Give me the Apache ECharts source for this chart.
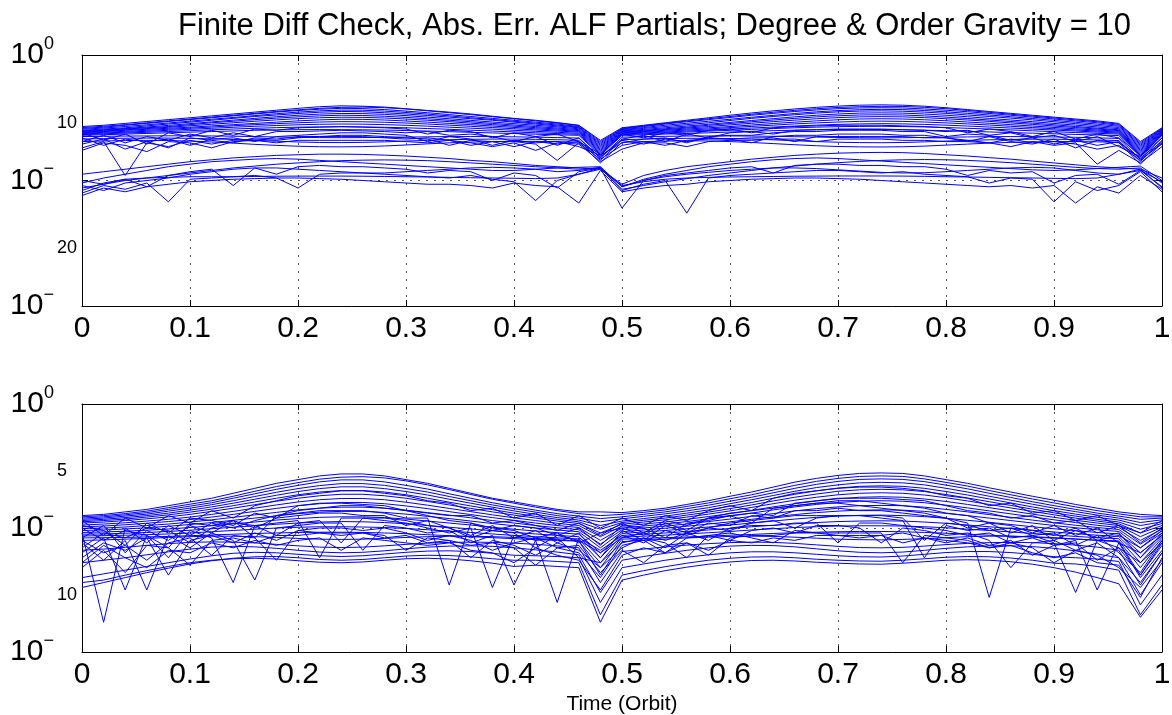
<!DOCTYPE html>
<html><head><meta charset="utf-8">
<script src="https://cdn.jsdelivr.net/npm/echarts@6/dist/echarts.min.js"></script>
<style>html,body{margin:0;padding:0;background:#fff}#c{width:1172px;height:715px}</style>
</head><body><div id="c"></div>
<script>
// Time (orbit fraction) sample points
const times = [0,0.02,0.04,0.06,0.08,0.1,0.12,0.14,0.16,0.18,0.2,0.22,0.24,0.26,0.28,0.3,0.32,0.34,0.36,0.38,0.4,0.42,0.44,0.46,0.48,0.5,0.52,0.54,0.56,0.58,0.6,0.62,0.64,0.66,0.68,0.7,0.72,0.74,0.76,0.78,0.8,0.82,0.84,0.86,0.88,0.9,0.92,0.94,0.96,0.98,1];
const xTickLabels = ['0','0.1','0.2','0.3','0.4','0.5','0.6','0.7','0.8','0.9','1'];
const titleText = 'Finite Diff Check, Abs. Err. ALF Partials; Degree & Order Gravity = 10';
const xAxisName = 'Time (Orbit)';

// log10(abs error) — top panel, upper band
const topU1 = [-5.7,-5.6,-5.45,-5.3,-5.15,-5.0,-4.85,-4.7,-4.55,-4.4,-4.25,-4.12,-4.05,-4.08,-4.15,-4.28,-4.42,-4.55,-4.7,-4.88,-5.05,-5.2,-5.38,-5.6,-6.8,-5.8,-5.6,-5.4,-5.2,-5.0,-4.8,-4.62,-4.45,-4.3,-4.17,-4.07,-4.0,-3.97,-4.0,-4.08,-4.2,-4.35,-4.5,-4.65,-4.8,-4.95,-5.1,-5.25,-5.45,-6.9,-5.8];
const topU1b = [-5.78,-5.68,-5.55,-5.4,-5.25,-5.1,-4.95,-4.8,-4.65,-4.5,-4.37,-4.25,-4.17,-4.15,-4.2,-4.3,-4.45,-4.6,-4.75,-4.92,-5.08,-5.25,-5.42,-5.62,-6.9,-5.85,-5.65,-5.45,-5.26,-5.08,-4.9,-4.72,-4.56,-4.41,-4.28,-4.18,-4.12,-4.09,-4.1,-4.17,-4.28,-4.42,-4.57,-4.72,-4.87,-5.02,-5.17,-5.32,-5.52,-7.0,-5.85];
const topU2 = [-5.85,-5.75,-5.6,-5.45,-5.3,-5.15,-5.0,-4.85,-4.7,-4.55,-4.42,-4.32,-4.25,-4.27,-4.35,-4.47,-4.6,-4.75,-4.9,-5.05,-5.2,-5.35,-5.5,-5.7,-7.0,-5.9,-5.7,-5.5,-5.32,-5.15,-4.98,-4.8,-4.65,-4.5,-4.38,-4.28,-4.22,-4.2,-4.22,-4.3,-4.4,-4.52,-4.66,-4.8,-4.95,-5.1,-5.25,-5.4,-5.6,-7.1,-5.9];
const topU2b = [-5.92,-5.82,-5.7,-5.56,-5.42,-5.27,-5.12,-4.98,-4.83,-4.68,-4.55,-4.45,-4.39,-4.4,-4.47,-4.58,-4.71,-4.85,-5.0,-5.14,-5.28,-5.43,-5.58,-5.75,-7.1,-5.95,-5.78,-5.6,-5.44,-5.28,-5.12,-4.96,-4.81,-4.66,-4.53,-4.43,-4.36,-4.33,-4.35,-4.42,-4.53,-4.65,-4.78,-4.92,-5.06,-5.21,-5.36,-5.51,-5.68,-7.2,-5.95];
const topU3 = [-6.0,-5.9,-5.8,-5.65,-5.5,-5.35,-5.2,-5.05,-4.9,-4.78,-4.66,-4.56,-4.5,-4.52,-4.6,-4.7,-4.82,-4.95,-5.08,-5.2,-5.35,-5.5,-5.65,-5.8,-7.2,-6.0,-5.85,-5.7,-5.55,-5.4,-5.22,-5.05,-4.9,-4.76,-4.63,-4.53,-4.47,-4.45,-4.48,-4.55,-4.65,-4.78,-4.9,-5.03,-5.17,-5.32,-5.47,-5.62,-5.78,-7.3,-6.0];
const topU3b = [-6.05,-5.96,-5.86,-5.74,-5.61,-5.47,-5.33,-5.19,-5.05,-4.92,-4.8,-4.71,-4.66,-4.67,-4.73,-4.83,-4.95,-5.08,-5.21,-5.34,-5.47,-5.6,-5.73,-5.88,-7.3,-6.05,-5.93,-5.8,-5.66,-5.52,-5.37,-5.22,-5.07,-4.93,-4.8,-4.7,-4.63,-4.61,-4.63,-4.7,-4.8,-4.92,-5.05,-5.18,-5.31,-5.45,-5.59,-5.73,-5.87,-7.4,-6.05];
const topU4 = [-6.1,-6.0,-5.9,-5.8,-5.7,-5.55,-5.4,-5.28,-5.15,-5.03,-4.93,-4.85,-4.8,-4.82,-4.88,-4.97,-5.08,-5.2,-5.32,-5.45,-5.58,-5.7,-5.82,-5.95,-7.4,-6.1,-6.0,-5.88,-5.75,-5.6,-5.46,-5.32,-5.18,-5.05,-4.93,-4.84,-4.78,-4.76,-4.78,-4.85,-4.95,-5.06,-5.18,-5.3,-5.43,-5.56,-5.7,-5.83,-5.96,-7.5,-6.1];
const topU4b = [-6.15,-6.06,-5.96,-5.86,-5.76,-5.64,-5.52,-5.4,-5.28,-5.17,-5.07,-5.0,-4.96,-4.97,-5.02,-5.1,-5.2,-5.31,-5.43,-5.55,-5.67,-5.79,-5.9,-6.02,-7.5,-6.15,-6.05,-5.94,-5.82,-5.7,-5.57,-5.44,-5.31,-5.19,-5.08,-4.99,-4.93,-4.91,-4.93,-4.99,-5.08,-5.18,-5.29,-5.41,-5.53,-5.66,-5.78,-5.9,-6.02,-7.6,-6.15];
const topU5 = [-6.2,-6.1,-6.0,-5.92,-5.84,-5.75,-5.65,-5.55,-5.45,-5.35,-5.25,-5.17,-5.12,-5.13,-5.18,-5.26,-5.35,-5.45,-5.55,-5.66,-5.77,-5.88,-5.98,-6.08,-7.6,-6.2,-6.1,-6.0,-5.9,-5.8,-5.7,-5.58,-5.46,-5.35,-5.25,-5.16,-5.1,-5.08,-5.1,-5.16,-5.24,-5.34,-5.44,-5.55,-5.66,-5.77,-5.88,-5.98,-6.08,-7.7,-6.2];
const topU5b = [-6.25,-6.16,-6.08,-6.0,-5.92,-5.83,-5.74,-5.64,-5.55,-5.47,-5.4,-5.34,-5.31,-5.32,-5.36,-5.42,-5.5,-5.59,-5.68,-5.78,-5.88,-5.97,-6.06,-6.15,-7.7,-6.25,-6.16,-6.07,-5.98,-5.89,-5.79,-5.69,-5.59,-5.49,-5.41,-5.34,-5.29,-5.27,-5.29,-5.34,-5.41,-5.49,-5.58,-5.68,-5.78,-5.88,-5.97,-6.06,-6.15,-7.8,-6.25];
const topU6 = [-6.3,-6.22,-6.15,-6.08,-6.0,-5.92,-5.84,-5.76,-5.68,-5.62,-5.56,-5.52,-5.5,-5.51,-5.55,-5.6,-5.67,-5.75,-5.83,-5.91,-6.0,-6.08,-6.16,-6.24,-7.8,-6.3,-6.22,-6.14,-6.06,-5.98,-5.9,-5.82,-5.74,-5.66,-5.59,-5.53,-5.49,-5.47,-5.49,-5.53,-5.59,-5.66,-5.74,-5.82,-5.9,-5.98,-6.06,-6.14,-6.22,-7.9,-6.3];
const topU6b = [-6.35,-6.28,-6.22,-6.16,-6.1,-6.03,-5.96,-5.9,-5.84,-5.79,-5.75,-5.73,-5.72,-5.73,-5.76,-5.8,-5.86,-5.92,-5.99,-6.06,-6.13,-6.2,-6.26,-6.32,-7.9,-6.35,-6.28,-6.21,-6.14,-6.07,-6.0,-5.93,-5.86,-5.8,-5.75,-5.71,-5.69,-5.68,-5.7,-5.73,-5.78,-5.84,-5.9,-5.97,-6.04,-6.11,-6.18,-6.24,-6.3,-8.0,-6.35];
const topU7 = [-6.4,-6.35,-6.3,-6.25,-6.2,-6.15,-6.1,-6.05,-6.0,-5.97,-5.95,-5.94,-5.95,-5.96,-5.98,-6.02,-6.06,-6.11,-6.16,-6.21,-6.26,-6.31,-6.36,-6.4,-8.0,-6.4,-6.35,-6.3,-6.25,-6.2,-6.14,-6.08,-6.03,-5.99,-5.96,-5.94,-5.93,-5.94,-5.96,-5.99,-6.03,-6.08,-6.13,-6.18,-6.23,-6.28,-6.33,-6.37,-6.42,-8.1,-6.4];
const topU8 = [-6.5,-6.48,-6.46,-6.45,-6.44,-6.44,-6.45,-6.47,-6.5,-6.53,-6.56,-6.58,-6.59,-6.58,-6.56,-6.54,-6.52,-6.5,-6.5,-6.5,-6.52,-6.55,-6.58,-6.62,-8.2,-6.55,-6.5,-6.48,-6.46,-6.45,-6.45,-6.46,-6.48,-6.51,-6.54,-6.57,-6.59,-6.6,-6.59,-6.57,-6.55,-6.53,-6.51,-6.5,-6.51,-6.53,-6.56,-6.6,-6.65,-8.3,-6.6];
const topU9 = [-6.7,-6.66,-6.63,-6.62,-6.62,-6.64,-6.68,-6.73,-6.8,-6.87,-6.93,-6.97,-6.98,-6.96,-6.92,-6.86,-6.8,-6.75,-6.72,-6.7,-6.7,-6.72,-6.75,-6.8,-8.4,-6.75,-6.7,-6.66,-6.64,-6.64,-6.66,-6.7,-6.76,-6.83,-6.9,-6.95,-6.98,-6.99,-6.97,-6.92,-6.86,-6.8,-6.76,-6.73,-6.71,-6.71,-6.73,-6.77,-6.82,-8.5,-6.8];
const topU10 = [-6.9,-6.85,-6.82,-6.8,-6.82,-6.86,-6.93,-7.02,-7.12,-7.2,-7.27,-7.31,-7.32,-7.3,-7.25,-7.17,-7.08,-7.0,-6.94,-6.9,-6.88,-6.88,-6.9,-6.95,-8.6,-6.95,-6.9,-6.86,-6.84,-6.85,-6.9,-6.97,-7.06,-7.15,-7.23,-7.29,-7.32,-7.33,-7.31,-7.26,-7.18,-7.1,-7.02,-6.96,-6.92,-6.9,-6.9,-6.92,-6.97,-8.7,-7.0];
const topJ1 = [-6.6,-7.2,-6.7,-6.9,-7.4,-6.6,-6.8,-7.0,-6.6,-6.7,-6.5,-6.5,-6.4,-6.4,-6.5,-6.6,-6.7,-7.2,-6.8,-6.9,-7.3,-6.9,-7.1,-6.9,-8.1,-6.8,-7.1,-6.7,-6.9,-6.6,-6.7,-7.0,-6.5,-6.4,-6.4,-6.3,-6.3,-6.3,-6.4,-6.4,-6.6,-6.9,-6.5,-6.9,-7.1,-6.7,-7.4,-6.8,-7.0,-8.2,-6.9];
const topJ2 = [-7.1,-6.7,-7.5,-6.9,-6.7,-7.2,-6.7,-6.6,-6.9,-6.5,-6.4,-6.3,-6.2,-6.2,-6.3,-6.4,-6.9,-6.5,-6.7,-7.2,-6.8,-7.0,-6.9,-7.3,-8.0,-7.0,-6.7,-6.6,-7.0,-6.5,-6.4,-6.4,-6.2,-6.1,-6.1,-6.0,-6.0,-6.0,-6.1,-6.1,-6.5,-6.3,-6.4,-6.8,-6.6,-7.1,-6.8,-7.2,-6.9,-8.3,-7.1];
const topJ3 = [-7.4,-6.9,-9.6,-7.0,-7.3,-6.8,-7.1,-6.8,-6.7,-6.8,-6.6,-6.5,-6.5,-6.5,-6.6,-6.7,-6.6,-6.8,-7.2,-6.9,-6.9,-7.1,-8.4,-7.0,-8.3,-7.2,-6.9,-7.2,-6.8,-6.7,-6.7,-6.6,-6.6,-6.9,-6.5,-6.5,-6.5,-6.5,-6.5,-6.6,-6.6,-6.8,-7.0,-6.7,-7.0,-6.9,-7.1,-7.5,-7.2,-8.4,-7.0];
const topJ4 = [-7.6,-7.0,-7.2,-7.7,-6.9,-7.0,-7.4,-6.9,-6.8,-7.0,-6.8,-6.8,-6.8,-6.8,-6.8,-6.9,-7.0,-6.8,-7.0,-7.3,-7.0,-7.6,-7.0,-7.1,-8.5,-7.5,-7.0,-7.0,-7.3,-6.9,-6.8,-6.8,-6.7,-6.7,-6.9,-6.7,-6.7,-6.7,-6.8,-6.8,-6.9,-6.9,-7.0,-7.3,-6.9,-7.2,-7.0,-8.7,-7.6,-8.6,-7.3];
const topJ5 = [-6.2,-6.8,-6.3,-7.1,-6.2,-6.5,-6.0,-6.4,-5.9,-6.0,-5.8,-5.75,-5.7,-5.75,-5.8,-5.9,-6.3,-6.0,-6.1,-6.6,-6.2,-6.5,-6.3,-6.9,-7.9,-6.3,-6.6,-6.2,-6.4,-6.0,-5.9,-6.2,-5.8,-5.7,-5.65,-5.6,-5.6,-5.6,-5.65,-5.7,-5.8,-6.2,-5.9,-6.1,-6.5,-6.1,-6.7,-6.3,-6.6,-8.0,-6.4];
const topJ6 = [-6.9,-6.4,-7.0,-6.5,-6.8,-6.3,-6.6,-6.2,-6.5,-6.1,-6.1,-6.05,-6.0,-6.05,-6.1,-6.2,-6.1,-6.4,-6.3,-6.5,-6.9,-6.5,-7.2,-6.6,-8.2,-6.7,-6.4,-6.9,-6.3,-6.6,-6.2,-6.1,-6.3,-6.0,-5.95,-5.9,-5.9,-5.9,-5.95,-6.0,-6.1,-6.0,-6.4,-6.2,-6.6,-6.4,-6.9,-6.5,-7.3,-8.1,-6.6];
// top panel, lower band
const topL1 = [-9.5,-9.3,-9.1,-8.9,-8.7,-8.5,-8.35,-8.2,-8.1,-8.0,-7.95,-7.9,-7.9,-7.92,-7.98,-8.05,-8.15,-8.25,-8.4,-8.5,-8.65,-8.8,-8.9,-9.0,-9.1,-10.3,-9.6,-9.2,-8.9,-8.7,-8.5,-8.3,-8.15,-8.0,-7.9,-7.82,-7.78,-7.76,-7.78,-7.85,-7.95,-8.05,-8.18,-8.3,-8.45,-8.6,-8.75,-8.9,-9.0,-9.1,-9.8];
const topL2 = [-10.2,-9.8,-9.5,-9.2,-8.9,-8.7,-8.5,-8.4,-8.3,-8.25,-8.3,-8.4,-8.5,-8.6,-8.7,-8.8,-8.9,-9.0,-9.1,-9.2,-9.2,-9.1,-9.0,-8.95,-8.9,-10.5,-9.9,-9.5,-9.2,-8.9,-8.7,-8.5,-8.35,-8.25,-8.2,-8.25,-8.35,-8.45,-8.55,-8.65,-8.75,-8.85,-8.95,-9.05,-9.15,-9.2,-9.15,-9.05,-8.95,-8.85,-10.0];
const topL3 = [-10.6,-10.3,-10.0,-9.8,-9.6,-9.4,-9.2,-9.0,-8.85,-8.7,-8.6,-8.5,-8.42,-8.38,-8.36,-8.38,-8.42,-8.5,-8.6,-8.7,-8.8,-8.9,-9.0,-9.1,-9.0,-10.7,-10.4,-10.1,-9.85,-9.6,-9.4,-9.2,-9.0,-8.85,-8.7,-8.58,-8.48,-8.4,-8.35,-8.33,-8.35,-8.4,-8.48,-8.58,-8.7,-8.82,-8.95,-9.05,-9.1,-9.0,-10.2];
const topL4 = [-10.0,-10.3,-9.9,-9.8,-9.75,-9.7,-9.7,-9.7,-9.68,-9.66,-9.65,-9.65,-9.65,-9.66,-9.68,-9.7,-9.72,-9.75,-9.78,-9.8,-9.82,-9.85,-9.8,-9.5,-9.1,-10.4,-10.1,-9.9,-9.8,-9.75,-9.72,-9.7,-9.68,-9.66,-9.65,-9.64,-9.64,-9.64,-9.65,-9.67,-9.7,-9.72,-9.75,-9.78,-9.8,-9.83,-9.85,-9.8,-9.5,-9.2,-10.1];
const topL5 = [-10.8,-10.2,-9.9,-10.5,-9.6,-9.3,-9.1,-10.4,-9.0,-9.5,-8.9,-8.8,-8.9,-8.9,-9.0,-9.1,-9.4,-9.2,-9.3,-10.0,-9.4,-9.6,-10.6,-9.3,-9.0,-12.2,-10.0,-9.6,-9.4,-9.2,-9.0,-8.9,-9.4,-8.8,-8.7,-8.7,-8.8,-8.8,-8.9,-8.9,-9.1,-9.6,-9.2,-9.4,-9.3,-10.2,-9.6,-9.5,-10.3,-9.2,-10.5];
const topL6 = [-11.0,-10.4,-10.7,-10.2,-11.7,-9.9,-9.8,-9.7,-9.6,-9.8,-10.6,-9.5,-9.4,-9.4,-9.5,-9.6,-9.7,-9.8,-9.6,-9.9,-10.1,-11.6,-10.0,-9.5,-9.0,-10.8,-10.3,-10.0,-12.6,-9.8,-9.6,-9.5,-9.4,-9.3,-9.2,-9.2,-9.3,-9.4,-9.3,-9.5,-9.6,-9.7,-10.2,-9.8,-9.9,-11.7,-10.1,-10.8,-10.4,-9.3,-10.9];
const topL7 = [-10.4,-10.8,-10.2,-10.0,-9.8,-9.5,-9.3,-9.1,-9.0,-9.0,-9.1,-9.2,-9.3,-9.4,-9.4,-9.3,-9.2,-9.1,-9.0,-8.95,-9.0,-9.1,-9.3,-9.2,-8.95,-10.5,-10.0,-9.7,-9.5,-9.35,-9.2,-9.1,-9.0,-9.0,-9.05,-9.15,-9.25,-9.35,-9.4,-9.38,-9.3,-9.2,-9.1,-9.0,-8.95,-9.0,-9.2,-9.4,-9.5,-9.1,-10.6];
const topL8 = [-11.2,-10.6,-10.9,-10.5,-10.3,-10.1,-10.0,-9.9,-9.85,-9.8,-9.8,-9.85,-9.9,-10.0,-10.1,-10.2,-10.3,-10.3,-10.4,-10.6,-10.2,-10.4,-10.5,-11.8,-9.2,-10.9,-10.6,-10.4,-10.3,-10.1,-10.0,-9.9,-9.85,-9.8,-9.8,-9.85,-9.9,-10.0,-10.1,-10.2,-10.3,-10.4,-10.5,-10.4,-10.6,-10.4,-11.8,-10.5,-11.0,-9.6,-10.7];

// bottom panel
const botB1 = [-4.5,-4.45,-4.35,-4.25,-4.1,-3.95,-3.8,-3.6,-3.4,-3.2,-3.05,-2.9,-2.82,-2.82,-2.9,-3.05,-3.2,-3.4,-3.6,-3.8,-3.95,-4.1,-4.25,-4.35,-4.35,-4.38,-4.3,-4.2,-4.05,-3.9,-3.72,-3.55,-3.35,-3.15,-3.0,-2.88,-2.8,-2.78,-2.8,-2.9,-3.05,-3.2,-3.38,-3.55,-3.72,-3.88,-4.05,-4.2,-4.35,-4.45,-4.5];
const botB1b = [-4.55,-4.5,-4.42,-4.32,-4.18,-4.04,-3.9,-3.72,-3.52,-3.33,-3.17,-3.03,-2.95,-2.93,-2.98,-3.1,-3.26,-3.45,-3.65,-3.84,-4.0,-4.16,-4.3,-4.42,-4.5,-4.45,-4.37,-4.27,-4.13,-3.99,-3.82,-3.66,-3.47,-3.28,-3.12,-3.0,-2.92,-2.9,-2.92,-3.02,-3.16,-3.31,-3.49,-3.66,-3.83,-3.99,-4.15,-4.3,-4.43,-4.55,-4.55];
const botB2 = [-4.6,-4.55,-4.47,-4.38,-4.25,-4.12,-3.98,-3.8,-3.62,-3.44,-3.28,-3.14,-3.06,-3.06,-3.14,-3.28,-3.43,-3.62,-3.8,-3.98,-4.14,-4.28,-4.42,-4.52,-4.62,-4.55,-4.45,-4.35,-4.22,-4.08,-3.92,-3.76,-3.58,-3.4,-3.24,-3.12,-3.04,-3.02,-3.04,-3.13,-3.27,-3.42,-3.6,-3.77,-3.94,-4.1,-4.25,-4.4,-4.52,-4.65,-4.6];
const botB2b = [-4.65,-4.6,-4.52,-4.44,-4.32,-4.2,-4.06,-3.9,-3.73,-3.56,-3.41,-3.29,-3.21,-3.21,-3.28,-3.41,-3.55,-3.73,-3.9,-4.07,-4.22,-4.36,-4.5,-4.6,-4.75,-4.63,-4.53,-4.43,-4.31,-4.18,-4.02,-3.86,-3.69,-3.52,-3.37,-3.26,-3.18,-3.16,-3.18,-3.26,-3.4,-3.55,-3.72,-3.88,-4.04,-4.2,-4.34,-4.48,-4.6,-4.78,-4.67];
const botB3 = [-4.7,-4.65,-4.58,-4.5,-4.4,-4.28,-4.15,-4.0,-3.84,-3.68,-3.53,-3.41,-3.34,-3.34,-3.41,-3.53,-3.67,-3.84,-4.0,-4.16,-4.31,-4.45,-4.58,-4.68,-4.9,-4.72,-4.62,-4.52,-4.4,-4.27,-4.12,-3.97,-3.8,-3.64,-3.5,-3.39,-3.32,-3.3,-3.32,-3.4,-3.53,-3.67,-3.83,-3.99,-4.15,-4.3,-4.44,-4.57,-4.68,-4.9,-4.75];
const botB3b = [-4.75,-4.7,-4.64,-4.56,-4.47,-4.36,-4.24,-4.1,-3.95,-3.8,-3.66,-3.55,-3.49,-3.49,-3.55,-3.66,-3.8,-3.96,-4.11,-4.26,-4.4,-4.53,-4.65,-4.75,-5.05,-4.78,-4.69,-4.6,-4.48,-4.36,-4.22,-4.07,-3.91,-3.76,-3.63,-3.52,-3.46,-3.44,-3.46,-3.53,-3.65,-3.79,-3.94,-4.09,-4.24,-4.39,-4.52,-4.65,-4.76,-5.05,-4.82];
const botB4 = [-4.8,-4.76,-4.7,-4.63,-4.55,-4.45,-4.33,-4.2,-4.06,-3.92,-3.8,-3.7,-3.64,-3.64,-3.7,-3.8,-3.93,-4.07,-4.21,-4.35,-4.48,-4.6,-4.72,-4.82,-5.2,-4.85,-4.76,-4.67,-4.56,-4.44,-4.31,-4.17,-4.02,-3.88,-3.76,-3.66,-3.6,-3.58,-3.6,-3.67,-3.78,-3.91,-4.05,-4.19,-4.33,-4.47,-4.6,-4.72,-4.83,-5.2,-4.9];
const botB4b = [-4.88,-4.84,-4.79,-4.72,-4.65,-4.56,-4.45,-4.33,-4.2,-4.07,-3.95,-3.86,-3.81,-3.81,-3.86,-3.96,-4.08,-4.21,-4.34,-4.47,-4.59,-4.7,-4.81,-4.9,-5.35,-4.92,-4.84,-4.76,-4.65,-4.54,-4.42,-4.29,-4.15,-4.02,-3.91,-3.82,-3.76,-3.74,-3.76,-3.83,-3.93,-4.05,-4.18,-4.31,-4.44,-4.57,-4.69,-4.8,-4.9,-5.35,-4.97];
const botB5 = [-4.95,-4.92,-4.87,-4.81,-4.74,-4.66,-4.56,-4.45,-4.33,-4.21,-4.1,-4.02,-3.97,-3.97,-4.02,-4.11,-4.22,-4.34,-4.46,-4.58,-4.69,-4.8,-4.9,-4.98,-5.5,-5.0,-4.92,-4.84,-4.74,-4.63,-4.52,-4.4,-4.27,-4.15,-4.05,-3.97,-3.92,-3.9,-3.92,-3.98,-4.08,-4.19,-4.31,-4.43,-4.55,-4.67,-4.78,-4.89,-4.98,-5.5,-5.05];
const botB5b = [-5.02,-5.0,-4.96,-4.9,-4.84,-4.76,-4.67,-4.57,-4.47,-4.37,-4.27,-4.2,-4.16,-4.16,-4.2,-4.28,-4.38,-4.48,-4.59,-4.7,-4.8,-4.9,-4.99,-5.07,-5.65,-5.07,-5.0,-4.92,-4.84,-4.74,-4.64,-4.53,-4.42,-4.31,-4.22,-4.15,-4.1,-4.09,-4.1,-4.16,-4.25,-4.35,-4.46,-4.57,-4.68,-4.79,-4.89,-4.98,-5.06,-5.65,-5.12];
const botB6 = [-5.1,-5.08,-5.04,-4.99,-4.93,-4.86,-4.78,-4.69,-4.6,-4.51,-4.42,-4.36,-4.33,-4.33,-4.37,-4.44,-4.53,-4.62,-4.72,-4.82,-4.91,-5.0,-5.08,-5.15,-5.8,-5.15,-5.08,-5.01,-4.93,-4.84,-4.75,-4.65,-4.55,-4.46,-4.38,-4.32,-4.28,-4.27,-4.28,-4.33,-4.41,-4.5,-4.6,-4.7,-4.8,-4.9,-4.99,-5.07,-5.14,-5.8,-5.2];
const botB6b = [-5.18,-5.16,-5.13,-5.09,-5.04,-4.98,-4.91,-4.83,-4.76,-4.68,-4.62,-4.57,-4.55,-4.55,-4.58,-4.64,-4.72,-4.8,-4.88,-4.97,-5.05,-5.12,-5.19,-5.25,-6.0,-5.22,-5.16,-5.1,-5.03,-4.96,-4.88,-4.8,-4.72,-4.64,-4.57,-4.52,-4.49,-4.48,-4.5,-4.54,-4.61,-4.69,-4.77,-4.86,-4.95,-5.03,-5.11,-5.18,-5.24,-6.0,-5.28];
const botB7 = [-5.25,-5.24,-5.21,-5.18,-5.14,-5.09,-5.03,-4.97,-4.91,-4.85,-4.8,-4.76,-4.74,-4.75,-4.78,-4.83,-4.9,-4.97,-5.04,-5.11,-5.18,-5.24,-5.3,-5.35,-6.2,-5.3,-5.25,-5.2,-5.14,-5.08,-5.02,-4.95,-4.89,-4.83,-4.78,-4.74,-4.72,-4.71,-4.72,-4.76,-4.81,-4.88,-4.95,-5.02,-5.09,-5.16,-5.23,-5.29,-5.34,-6.2,-5.35];
const botB7b = [-5.32,-5.31,-5.29,-5.27,-5.24,-5.2,-5.15,-5.1,-5.05,-5.0,-4.97,-4.95,-4.95,-4.96,-4.98,-5.02,-5.07,-5.13,-5.18,-5.24,-5.3,-5.35,-5.4,-5.44,-6.4,-5.37,-5.33,-5.29,-5.24,-5.19,-5.14,-5.08,-5.03,-4.98,-4.95,-4.92,-4.91,-4.91,-4.92,-4.95,-4.99,-5.05,-5.1,-5.16,-5.22,-5.28,-5.34,-5.39,-5.43,-6.4,-5.42];
const botB8 = [-5.4,-5.39,-5.38,-5.36,-5.34,-5.31,-5.28,-5.25,-5.22,-5.2,-5.18,-5.17,-5.17,-5.18,-5.2,-5.23,-5.27,-5.31,-5.35,-5.39,-5.43,-5.47,-5.5,-5.53,-6.6,-5.45,-5.42,-5.39,-5.36,-5.33,-5.29,-5.26,-5.22,-5.19,-5.17,-5.15,-5.14,-5.14,-5.15,-5.18,-5.21,-5.25,-5.29,-5.33,-5.37,-5.41,-5.45,-5.49,-5.52,-6.6,-5.5];
const botB9 = [-5.5,-5.48,-5.45,-5.42,-5.38,-5.35,-5.33,-5.33,-5.35,-5.38,-5.42,-5.45,-5.46,-5.45,-5.42,-5.38,-5.35,-5.33,-5.33,-5.35,-5.38,-5.42,-5.47,-5.52,-6.9,-5.55,-5.5,-5.45,-5.4,-5.37,-5.34,-5.33,-5.34,-5.37,-5.41,-5.45,-5.47,-5.48,-5.46,-5.43,-5.39,-5.35,-5.33,-5.33,-5.35,-5.39,-5.44,-5.5,-5.56,-6.9,-5.6];
const botB10 = [-5.9,-5.85,-5.78,-5.7,-5.63,-5.58,-5.56,-5.57,-5.6,-5.66,-5.72,-5.77,-5.79,-5.77,-5.72,-5.66,-5.61,-5.58,-5.57,-5.58,-5.61,-5.66,-5.72,-5.8,-7.2,-5.95,-5.85,-5.76,-5.69,-5.63,-5.59,-5.57,-5.58,-5.62,-5.68,-5.74,-5.79,-5.8,-5.78,-5.73,-5.67,-5.62,-5.59,-5.58,-5.59,-5.63,-5.69,-5.77,-5.9,-7.3,-6.0];
const botB11 = [-6.4,-6.3,-6.2,-6.08,-5.96,-5.85,-5.77,-5.74,-5.76,-5.82,-5.9,-5.97,-6.0,-5.98,-5.92,-5.84,-5.77,-5.73,-5.72,-5.74,-5.8,-5.88,-5.97,-6.08,-7.6,-6.3,-6.15,-6.02,-5.9,-5.8,-5.73,-5.7,-5.71,-5.76,-5.84,-5.92,-5.98,-6.0,-5.97,-5.9,-5.82,-5.76,-5.72,-5.72,-5.75,-5.82,-5.92,-6.05,-6.2,-7.7,-6.4];
const botB12 = [-7.0,-6.85,-6.7,-6.55,-6.4,-6.25,-6.12,-6.02,-5.98,-6.0,-6.06,-6.12,-6.15,-6.12,-6.05,-5.98,-5.93,-5.92,-5.95,-6.02,-6.1,-6.12,-6.15,-6.2,-8.0,-6.6,-6.45,-6.3,-6.18,-6.08,-6.0,-5.96,-5.96,-6.0,-6.06,-6.12,-6.16,-6.17,-6.13,-6.06,-5.99,-5.95,-5.95,-5.99,-6.06,-6.16,-6.2,-6.25,-6.35,-8.1,-6.9];
const botB13 = [-7.4,-7.2,-7.0,-6.8,-6.62,-6.45,-6.32,-6.22,-6.16,-6.15,-6.2,-6.27,-6.3,-6.27,-6.2,-6.13,-6.1,-6.11,-6.16,-6.24,-6.3,-6.3,-6.35,-6.4,-8.5,-6.9,-6.72,-6.56,-6.42,-6.3,-6.22,-6.17,-6.16,-6.2,-6.26,-6.3,-6.33,-6.34,-6.3,-6.24,-6.18,-6.15,-6.16,-6.21,-6.3,-6.42,-6.45,-6.55,-6.7,-8.5,-7.3];
const botB14 = [-7.2,-7.1,-6.9,-6.72,-6.55,-6.4,-6.3,-6.24,-6.22,-6.25,-6.32,-6.38,-6.4,-6.37,-6.3,-6.24,-6.22,-6.25,-6.32,-6.42,-6.55,-6.5,-6.55,-6.6,-8.8,-7.1,-6.9,-6.72,-6.58,-6.46,-6.37,-6.31,-6.3,-6.33,-6.38,-6.42,-6.45,-6.46,-6.42,-6.36,-6.3,-6.28,-6.3,-6.36,-6.46,-6.6,-6.78,-7.0,-7.25,-8.6,-7.5];
const botK1 = [-5.2,-8.8,-5.0,-5.6,-4.9,-5.3,-4.8,-5.0,-4.7,-4.5,-4.4,-4.3,-4.3,-4.3,-4.4,-4.6,-4.6,-7.3,-4.8,-5.0,-5.1,-5.4,-5.2,-5.6,-5.2,-5.0,-5.3,-4.8,-5.1,-4.6,-4.4,-4.3,-4.2,-4.1,-4.0,-4.0,-4.1,-4.2,-4.3,-4.4,-4.6,-4.8,-7.8,-5.0,-5.1,-5.3,-5.0,-5.5,-5.3,-5.8,-5.1];
const botK2 = [-6.0,-5.4,-7.5,-5.3,-6.2,-5.1,-5.4,-7.2,-4.9,-4.8,-4.7,-6.2,-4.6,-4.6,-4.7,-4.8,-5.0,-5.2,-5.0,-7.4,-5.3,-5.5,-8.0,-5.4,-5.9,-5.3,-5.6,-5.1,-5.3,-5.0,-4.8,-4.7,-4.6,-4.5,-4.5,-4.5,-4.5,-4.6,-4.7,-6.2,-4.9,-5.1,-5.0,-5.4,-5.3,-5.6,-7.6,-5.5,-5.8,-6.4,-5.6];
const botK3 = [-5.6,-6.3,-5.5,-7.5,-5.3,-5.8,-5.2,-5.5,-7.1,-5.0,-4.9,-4.8,-4.8,-5.9,-4.9,-5.0,-5.2,-5.1,-5.6,-5.3,-7.3,-5.5,-5.4,-6.2,-6.4,-5.6,-5.4,-5.8,-5.2,-5.5,-5.0,-4.9,-4.9,-4.8,-4.8,-5.6,-4.8,-4.8,-4.9,-5.0,-5.1,-5.3,-5.2,-5.6,-5.4,-5.7,-5.5,-7.5,-5.6,-7.0,-5.9];
const botK4 = [-6.6,-5.9,-6.8,-5.7,-5.8,-6.5,-5.5,-5.4,-5.6,-5.3,-5.3,-5.2,-5.2,-5.2,-5.3,-5.9,-5.4,-5.5,-5.7,-5.6,-5.8,-6.5,-5.8,-5.7,-6.8,-5.9,-6.4,-5.7,-5.6,-6.1,-5.4,-5.3,-5.3,-5.2,-5.2,-5.2,-5.2,-5.2,-6.4,-5.3,-5.4,-5.5,-5.8,-5.6,-5.8,-6.4,-5.9,-6.1,-6.6,-7.4,-6.3];
const botK5 = [-5.0,-5.5,-5.1,-5.3,-5.8,-4.8,-4.9,-4.7,-5.4,-4.5,-4.3,-4.2,-4.1,-4.1,-4.2,-4.3,-4.5,-4.7,-4.8,-5.1,-4.9,-5.0,-5.3,-5.0,-5.7,-4.9,-5.0,-5.4,-4.8,-4.7,-4.5,-4.8,-4.2,-4.1,-4.0,-3.9,-3.9,-4.0,-4.1,-4.2,-4.4,-4.5,-4.8,-4.9,-5.2,-4.9,-5.3,-5.0,-5.6,-6.0,-5.3];
const botK6 = [-5.8,-5.2,-5.4,-5.0,-5.1,-5.6,-5.0,-4.8,-4.9,-5.3,-4.8,-4.7,-5.6,-4.6,-4.6,-4.7,-4.9,-5.0,-5.4,-5.1,-5.2,-5.8,-5.3,-5.5,-6.0,-5.4,-5.2,-5.5,-5.2,-5.0,-5.1,-4.8,-4.7,-5.0,-4.6,-4.5,-4.5,-4.5,-4.6,-5.5,-4.8,-4.9,-5.1,-5.0,-5.3,-5.2,-5.7,-5.3,-6.0,-6.8,-5.5];
const botK7 = [-4.7,-5.3,-4.6,-5.0,-4.5,-4.8,-4.3,-4.6,-4.1,-3.9,-3.7,-3.6,-3.5,-3.5,-3.6,-3.7,-3.9,-4.0,-4.3,-4.2,-4.6,-4.4,-4.9,-4.5,-5.0,-4.6,-4.9,-4.5,-4.7,-4.3,-4.1,-4.3,-3.8,-3.6,-3.5,-3.4,-3.35,-3.35,-3.4,-3.5,-3.7,-3.8,-4.1,-4.0,-4.4,-4.3,-4.7,-4.5,-4.9,-5.2,-4.7];
const botK8 = [-5.4,-4.9,-6.0,-5.1,-5.5,-4.9,-5.2,-4.7,-5.0,-4.6,-4.5,-4.4,-4.4,-4.5,-4.5,-4.9,-4.7,-5.0,-5.3,-4.9,-5.4,-5.1,-5.6,-5.2,-6.2,-5.1,-5.5,-4.9,-5.2,-4.8,-4.9,-4.5,-4.6,-4.3,-4.3,-4.2,-4.3,-4.3,-4.4,-4.5,-4.6,-5.0,-4.8,-5.2,-4.9,-5.5,-5.1,-5.4,-5.2,-6.2,-5.2];
const botK9 = [-6.2,-5.6,-5.9,-5.4,-6.9,-5.5,-5.3,-5.6,-5.2,-5.5,-5.1,-5.0,-5.0,-5.1,-5.0,-5.2,-5.5,-5.3,-5.5,-5.9,-5.6,-5.4,-5.8,-6.0,-7.0,-5.7,-5.5,-6.0,-5.4,-5.3,-5.5,-5.1,-5.0,-5.2,-4.9,-4.9,-5.0,-5.6,-5.0,-5.1,-5.3,-5.2,-5.5,-6.6,-5.6,-5.5,-5.9,-5.6,-6.2,-7.2,-6.0];
const botK10 = [-5.5,-6.0,-5.7,-6.3,-5.6,-5.4,-6.1,-5.3,-5.4,-6.3,-5.1,-5.2,-5.3,-5.2,-5.4,-5.3,-5.6,-5.5,-6.2,-5.5,-5.7,-6.1,-5.6,-5.9,-6.6,-5.8,-5.4,-5.6,-6.2,-5.3,-5.2,-5.4,-5.6,-5.1,-5.2,-5.3,-5.4,-5.3,-5.2,-5.4,-5.6,-5.4,-5.7,-5.5,-6.1,-5.7,-5.6,-6.3,-5.8,-6.9,-5.7];
const botK11 = [-4.9,-5.1,-5.7,-4.8,-5.2,-4.6,-4.7,-4.9,-4.4,-4.6,-4.1,-4.0,-4.0,-4.05,-4.1,-4.3,-4.4,-4.5,-4.5,-4.8,-4.7,-4.9,-5.1,-4.8,-5.3,-4.8,-5.2,-4.7,-4.9,-4.6,-4.5,-4.4,-4.5,-4.0,-3.9,-3.8,-3.8,-3.8,-3.85,-3.9,-4.1,-4.3,-4.4,-4.6,-4.5,-4.8,-4.7,-5.2,-4.9,-5.6,-5.0];
const botK12 = [-6.4,-5.7,-6.2,-6.6,-5.9,-6.0,-5.6,-5.8,-5.5,-5.7,-5.5,-5.4,-5.9,-5.4,-5.5,-5.6,-5.7,-5.6,-5.9,-6.0,-6.4,-5.8,-6.1,-6.3,-7.5,-6.1,-5.8,-6.0,-5.6,-5.9,-5.5,-5.6,-5.4,-5.5,-5.3,-5.3,-5.3,-5.3,-5.6,-5.4,-5.5,-5.6,-5.8,-5.7,-6.0,-6.2,-6.0,-6.4,-6.5,-7.8,-6.2];

const topLines = [topU1,topU1b,topU2,topU2b,topU3,topU3b,topU4,topU4b,topU5,topU5b,topU6,topU6b,topU7,topU8,topU9,topU10,
  topJ1,topJ2,topJ3,topJ4,topJ5,topJ6,topL1,topL2,topL3,topL4,topL5,topL6,topL7,topL8];
const bottomLines = [botB1,botB1b,botB2,botB2b,botB3,botB3b,botB4,botB4b,botB5,botB5b,botB6,botB6b,botB7,botB7b,botB8,botB9,botB10,botB11,botB12,botB13,botB14,
  botK1,botK2,botK3,botK4,botK5,botK6,botK7,botK8,botK9,botK10,botK11,botK12];

const FONT = "'Liberation Sans', Arial, Helvetica, sans-serif";
const chart = echarts.init(document.getElementById('c'), null, {renderer: 'canvas'});

function line(ys, gi) {
  return {
    type: 'line', xAxisIndex: gi, yAxisIndex: gi,
    data: ys.map((v, i) => [times[i], v]),
    showSymbol: false, symbol: 'none', silent: true, animation: false,
    lineStyle: {color: '#0000ff', width: 1}, itemStyle: {color: '#0000ff'}
  };
}

const dotted = {show: true, lineStyle: {color: '#555', width: 1, type: [2, 6]}};
function xAxisMain(gi, withName) {
  const ax = {
    gridIndex: gi, type: 'value', min: 0, max: 1, interval: 0.1, position: 'bottom',
    axisLine: {show: true, onZero: false, lineStyle: {color: '#000', width: 1}},
    axisTick: {show: true, inside: true, length: 6, lineStyle: {color: '#000'}},
    axisLabel: {color: '#000', fontSize: 30, fontFamily: FONT, margin: 8,
      formatter: v => xTickLabels[Math.round(v * 10)]},
    splitLine: dotted
  };
  if (withName) {
    ax.name = xAxisName; ax.nameLocation = 'middle'; ax.nameGap = 42;
    ax.nameTextStyle = {color: '#000', fontSize: 21, fontFamily: FONT};
  }
  return ax;
}
function xAxisTop(gi) {
  return {gridIndex: gi, type: 'value', min: 0, max: 1, interval: 0.1, position: 'top',
    axisLine: {show: true, onZero: false, lineStyle: {color: '#000'}},
    axisTick: {show: true, inside: true, length: 6, lineStyle: {color: '#000'}},
    axisLabel: {show: false}, splitLine: {show: false}};
}
const yRich = {
  b: {fontSize: 30, fontFamily: FONT, color: '#000', lineHeight: 40},
  s: {fontSize: 18, fontFamily: FONT, color: '#000', verticalAlign: 'top', lineHeight: 20}
};
function yAxisMain(gi, mn, iv) {
  return {gridIndex: gi, type: 'value', min: mn, max: 0, interval: iv, position: 'left',
    axisLine: {show: true, onZero: false, lineStyle: {color: '#000'}},
    axisTick: {show: true, inside: true, length: 6, lineStyle: {color: '#000'}},
    axisLabel: {margin: 28, rich: yRich,
      formatter: v => v === 0 ? '{b|10}{s|0}' : '{b|10}{s|\u2212}'},
    splitLine: dotted};
}
function yAxisRight(gi, mn, iv) {
  return {gridIndex: gi, type: 'value', min: mn, max: 0, interval: iv, position: 'right',
    axisLine: {show: true, onZero: false, lineStyle: {color: '#000'}},
    axisTick: {show: true, inside: true, length: 6, lineStyle: {color: '#000'}},
    axisLabel: {show: false}, splitLine: {show: false}};
}

// small exponent fragments shown above the y tick labels, as in the original
const expFragments = [
  {text: '10', x: 57, y: 123}, {text: '20', x: 57, y: 248},
  {text: '5', x: 57, y: 471}, {text: '10', x: 57, y: 595}
];

const option = {
  backgroundColor: '#fff',
  animation: false,
  title: {text: titleText, left: 173, top: 6,
    textStyle: {fontSize: 31, fontWeight: 'normal', color: '#000', fontFamily: FONT}},
  grid: [
    {left: 82, top: 55, width: 1080, height: 251, show: false, outerBoundsMode: 'none', containLabel: false},
    {left: 82, top: 404, width: 1080, height: 248, show: false, outerBoundsMode: 'none', containLabel: false}
  ],
  xAxis: [xAxisMain(0, false), xAxisMain(1, true), xAxisTop(0), xAxisTop(1)],
  yAxis: [yAxisMain(0, -20, 10), yAxisMain(1, -10, 5), yAxisRight(0, -20, 10), yAxisRight(1, -10, 5)],
  graphic: expFragments.map(f => ({type: 'text', x: f.x, y: f.y, silent: true,
    style: {text: f.text, fill: '#000', font: '18px ' + FONT, textAlign: 'left', textVerticalAlign: 'middle'}})),
  series: topLines.map(l => line(l, 0)).concat(bottomLines.map(l => line(l, 1)))
};
chart.setOption(option);
</script>
</body></html>
